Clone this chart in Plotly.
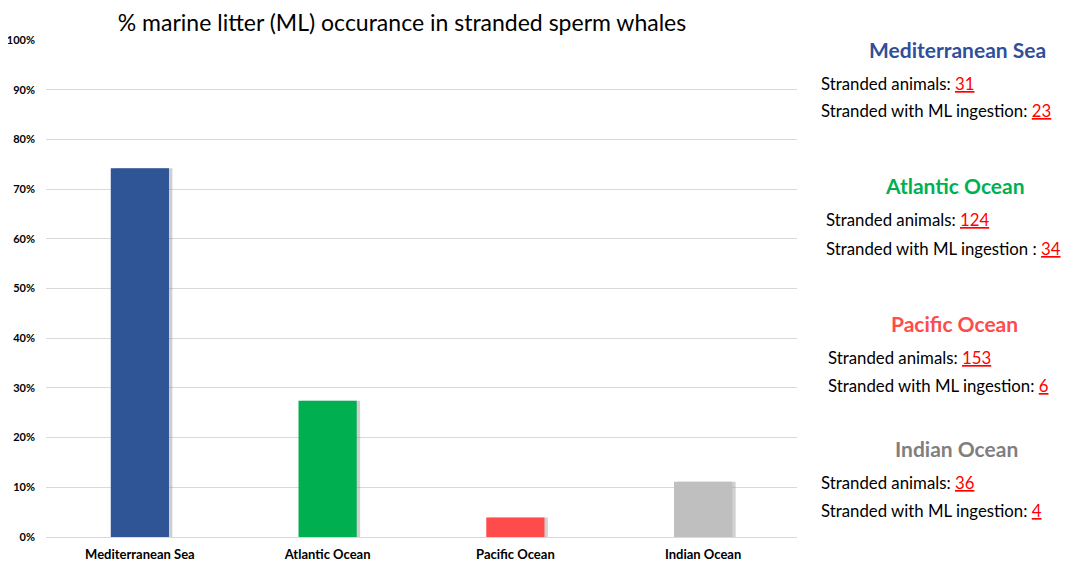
import plotly.graph_objects as go

# 数据：各海域搁浅抹香鲸数量与摄入海洋垃圾数量
regions = ["Mediterranean Sea", "Atlantic Ocean", "Pacific Ocean", "Indian Ocean"]
stranded = [31, 124, 153, 36]
with_ml = [23, 34, 6, 4]
occurrence = [m / s for m, s in zip(with_ml, stranded)]

bar_colors = ["#2F5597", "#00B050", "#FF4B4B", "#BFBFBF"]
head_colors = ["#2F4F9A", "#00B050", "#FF4B4B", "#7F7F7F"]
y_ticks = [i / 10 for i in range(11)]
y_labels = [f"{i * 10}%" for i in range(11)]

FONT = "Lato"

# 页面有 8px 的 body 边距，绘图区在页面上约为 x 46..797, y 40..537
PX0, PX1, PY0, PY1 = 46, 797, 40, 537


def px_x(x):
    return (x - PX0) / (PX1 - PX0)


def px_y(y):
    return 1 - (y - PY0) / (PY1 - PY0)


fig = go.Figure()

# 阴影
fig.add_trace(go.Bar(
    x=regions, y=occurrence, width=0.31, offset=-0.155 + 0.018,
    marker=dict(color="rgba(120,120,120,0.35)", line=dict(width=0)),
    hoverinfo="skip", showlegend=False,
))
fig.add_trace(go.Bar(
    x=regions, y=occurrence, width=0.31, offset=-0.155,
    marker=dict(color=bar_colors, line=dict(width=0)),
    showlegend=False,
))

fig.update_layout(
    width=1074, height=561,
    margin=dict(l=PX0 - 8, r=1074 - (PX1 - 8), t=PY0 - 8, b=561 - (PY1 - 8)),
    barmode="overlay",
    plot_bgcolor="white", paper_bgcolor="white",
    font=dict(family=FONT, color="#000000"),
    title=dict(
        text="% marine litter (ML) occurance in stranded sperm whales",
        x=(402 - 8) / 1074, xanchor="center", y=1 - (23 - 8) / 561, yanchor="middle",
        font=dict(family=FONT, size=23, color="#000000"),
    ),
)
fig.update_yaxes(
    range=[0, 1], tickvals=y_ticks, ticktext=y_labels, automargin=False,
    showgrid=True, gridcolor="#D9D9D9", gridwidth=1,
    zeroline=True, zerolinecolor="#D9D9D9", zerolinewidth=1,
    tickfont=dict(family=FONT, size=11, color="#000000", weight="bold"),
    ticks="", ticklabelstandoff=10,
)
fig.update_xaxes(
    showgrid=False, showline=False, ticks="", automargin=False,
    tickfont=dict(family=FONT, size=13, color="#000000", weight="bold"),
    ticklabelstandoff=8,
)

# 右侧说明文字（页面像素位置）
blocks = [(957, 50, 819), (955, 187, 824), (955, 324, 826), (956, 449, 819)]
for i, (hx, hy, lx) in enumerate(blocks):
    fig.add_annotation(
        xref="paper", yref="paper", x=px_x(hx), y=px_y(hy - 1),
        text=f"<b>{regions[i]}</b>", showarrow=False,
        xanchor="center", yanchor="middle",
        font=dict(family=FONT, size=21, color=head_colors[i]),
    )
    sep = " :" if i == 1 else ":"
    lines = [
        f"Stranded animals: <span style='color:#FF0000'><u>{stranded[i]}</u></span>",
        f"Stranded with ML ingestion{sep} <span style='color:#FF0000'><u>{with_ml[i]}</u></span>",
    ]
    for j, t in enumerate(lines):
        fig.add_annotation(
            xref="paper", yref="paper", x=px_x(lx), y=px_y(hy + 33 + 28 * j),
            text=t, showarrow=False, xanchor="left", yanchor="middle",
            font=dict(family=FONT, size=16.8, color="#000000"),
        )

fig.write_html("out.html")
